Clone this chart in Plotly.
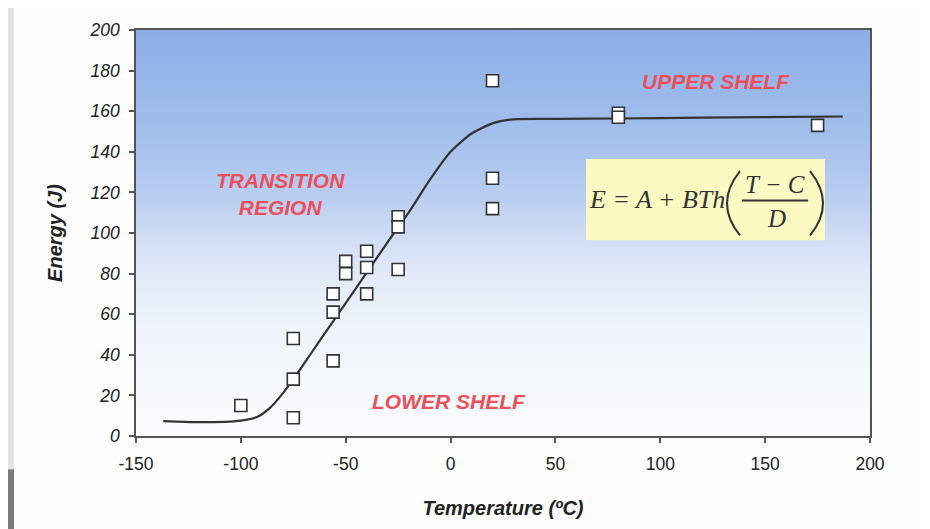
import plotly.graph_objects as go

# ---- data ----
temp_pts = [-100, -75, -75, -75, -56, -56, -56, -50, -50, -40, -40, -40,
            -25, -25, -25, 20, 20, 20, 80, 80, 175]
energy_pts = [15, 48, 28, 9, 70, 61, 37, 86, 80, 91, 83, 70,
              108, 103, 82, 175, 127, 112, 159, 157, 153]

curve_t = [-137, -120, -100, -92, -86, -80, -75, -66, -56, -50, -40, -34,
           -27, -20, -10, 0, 10, 20, 30, 50, 80, 120, 150, 187]
curve_e = [7.3, 6.8, 7.6, 9.5, 14, 21, 28, 41.5, 56.5, 65.5, 80.5, 89.5,
           100, 110, 126, 140, 149, 154, 156, 156.2, 156.4, 156.8, 157.1, 157.4]

x_ticks = [-150, -100, -50, 0, 50, 100, 150, 200]
y_ticks = [0, 20, 40, 60, 80, 100, 120, 140, 160, 180, 200]
x_range = [-150, 200]
y_range = [0, 200]

RED = "rgb(238,78,88)"
DARK = "#333333"

fig = go.Figure()

# gradient background of plot area
fig.add_trace(go.Scatter(
    x=[x_range[0], x_range[1], x_range[1], x_range[0], x_range[0]],
    y=[y_range[0], y_range[0], y_range[1], y_range[1], y_range[0]],
    mode="lines", line=dict(width=0), fill="toself",
    fillgradient=dict(type="vertical", start=0, stop=200,
                      colorscale=[[0, "#fbfcfe"], [0.25, "#f1f5fb"], [0.4, "#e3ebf8"],
                                  [0.5, "#cfdcf4"], [0.6, "#b9cdf0"], [0.75, "#a2bfec"],
                                  [1, "#8caee8"]]),
    hoverinfo="skip", showlegend=False))

fig.add_trace(go.Scatter(
    x=curve_t, y=curve_e, mode="lines",
    line=dict(color=DARK, width=2.2, shape="spline", smoothing=0.6),
    showlegend=False))

fig.add_trace(go.Scatter(
    x=temp_pts, y=energy_pts, mode="markers",
    marker=dict(symbol="square", size=12, color="white",
                line=dict(color=DARK, width=1.6)),
    showlegend=False))

# formula box
fig.add_shape(type="rect", x0=64.6, x1=178.5, y0=96.4, y1=136.5,
              fillcolor="#fcfac2", line=dict(width=0), layer="above")
fig.add_shape(type="line", x0=139, x1=170.5, y0=116, y1=116,
              line=dict(color=DARK, width=2), layer="above")
# parentheses
fig.add_shape(type="path", path="M 138,130.5 Q 125.6,114.6 138,98.8",
              line=dict(color=DARK, width=2), layer="above")
fig.add_shape(type="path", path="M 171.4,130.5 Q 183.8,114.6 171.4,98.8",
              line=dict(color=DARK, width=2), layer="above")

serif = "Liberation Serif"
fig.add_annotation(x=98.5, y=116.5, text="E = A + BTh", showarrow=False,
                   font=dict(family=serif, size=26, color=DARK, style="italic"))
fig.add_annotation(x=154.7, y=124, text="T − C", showarrow=False,
                   font=dict(family=serif, size=25, color=DARK, style="italic"))
fig.add_annotation(x=155.5, y=107, text="D", showarrow=False,
                   font=dict(family=serif, size=25, color=DARK, style="italic"))

lab_font = dict(family="Liberation Sans, Arial", size=21, color=RED,
                weight="bold", style="italic")
fig.add_annotation(x=-81, y=119, text="TRANSITION<br>REGION", showarrow=False,
                   font=lab_font)
fig.add_annotation(x=126.6, y=174.8, text="UPPER SHELF", showarrow=False, font=lab_font)
fig.add_annotation(x=-0.7, y=17, text="LOWER SHELF", showarrow=False, font=lab_font)

# scan frame (figure is offset by the page margin of 8px)
L, PW, PH, B = 128, 734, 413, 101
fig.add_shape(type="rect", xref="paper", yref="paper", x0=-L / PW, x1=(6 - L) / PW,
              y0=-B / PH, y1=1.2, fillcolor="#e5e3df", line=dict(width=0),
              layer="below")
fig.add_shape(type="rect", xref="paper", yref="paper", x0=-L / PW, x1=(6 - L) / PW,
              y0=-B / PH, y1=(436 - 470) / PH, fillcolor="#7b7b7b", line=dict(width=0),
              layer="below")

axis_common = dict(showgrid=False, zeroline=False, showline=True, linecolor="#555555",
                   linewidth=1.5, mirror=True, ticks="outside", ticklen=5,
                   tickcolor="#555555", tickwidth=1.5)

fig.update_xaxes(range=x_range, tickvals=x_ticks, ticktext=[str(v) for v in x_ticks],
                 tickfont=dict(family="Liberation Sans, Arial", size=17.5, color="#222"),
                 ticklabelstandoff=6,
                 title=dict(text="Temperature (ºC)", standoff=28,
                            font=dict(family="Liberation Sans, Arial", size=20,
                                      color="#222", weight="bold", style="italic")),
                 **axis_common)
fig.update_yaxes(range=y_range, tickvals=y_ticks, ticktext=[str(v) for v in y_ticks],
                 tickfont=dict(family="Liberation Sans, Arial", size=17.5, color="#222",
                               style="italic"),
                 ticklabelstandoff=6,
                 title=dict(text="Energy (J)", standoff=22,
                            font=dict(family="Liberation Sans, Arial", size=20,
                                      color="#222", weight="bold", style="italic")),
                 **axis_common)

fig.update_layout(width=930, height=529, margin=dict(l=L, r=68, t=15, b=B),
                  paper_bgcolor="#fdfdfd", plot_bgcolor="#fdfdfd", showlegend=False)

fig.write_html("out.html")
